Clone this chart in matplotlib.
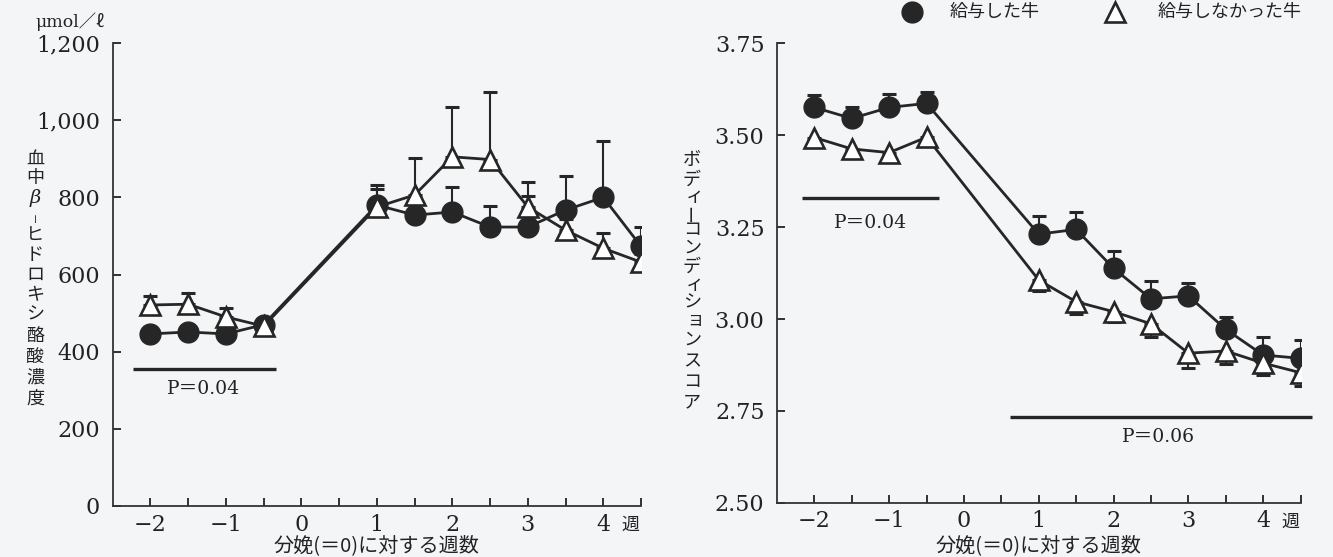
import matplotlib
matplotlib.use('Agg')
import matplotlib.pyplot as plt
import numpy as np
from matplotlib.lines import Line2D
from matplotlib.transforms import blended_transform_factory

# weeks relative to calving (=0)
weeks = [-2, -1.5, -1, -0.5, 1, 1.5, 2, 2.5, 3, 3.5, 4, 4.5]

# blood beta-hydroxybutyrate, umol/l
bhb_fed = [446, 451, 446, 470, 780, 754, 762, 723, 723, 767, 800, 673]
bhb_fed_sd = [18, 12, 12, 12, 51, 35, 65, 54, 80, 88, 145, 49]
bhb_nofed = [521, 523, 490, 466, 775, 806, 905, 898, 775, 715, 668, 632]
bhb_nofed_sd = [23, 29, 23, 10, 46, 96, 129, 174, 64, 30, 39, 20]

# body condition score
bcs_fed = [3.576, 3.546, 3.576, 3.587, 3.231, 3.244, 3.138, 3.055, 3.063, 2.972, 2.902, 2.893]
bcs_fed_sd = [0.034, 0.030, 0.036, 0.032, 0.050, 0.048, 0.048, 0.049, 0.034, 0.034, 0.050, 0.050]
bcs_nofed = [3.494, 3.463, 3.453, 3.495, 3.106, 3.047, 3.020, 2.987, 2.907, 2.913, 2.880, 2.854]
bcs_nofed_sd = [0.025, 0.025, 0.025, 0.021, 0.030, 0.034, 0.027, 0.035, 0.041, 0.036, 0.032, 0.036]

xticks = np.arange(-2, 4.51, 0.5)
xticklabels = ['−2', '', '−1', '', '0', '', '1', '', '2', '', '3', '', '4', '']
bhb_ticks = [0, 200, 400, 600, 800, 1000, 1200]
bhb_ticklabels = ['0', '200', '400', '600', '800', '1,000', '1,200']
bcs_ticks = [2.50, 2.75, 3.00, 3.25, 3.50, 3.75]
bcs_ticklabels = ['2.50', '2.75', '3.00', '3.25', '3.50', '3.75']

legend_labels = ['給与した牛', '給与しなかった牛']
xlabel = '分娩(＝0)に対する週数'
ylabel_left = ['血', '中', 'β', 'ー', 'ヒ', 'ド', 'ロ', 'キ', 'シ', '酪', '酸', '濃', '度']
ylabel_right = list('ボディーコンディションスコア')

BG = '#f3f5f7'
INK = '#262626'
SERIF = ['DejaVu Serif', 'Noto Sans CJK JP']
JP = ['Noto Sans CJK JP', 'DejaVu Sans']

W, H = 1333, 557
fig = plt.figure(figsize=(W / 100, H / 100), dpi=100, facecolor=BG)
ax1 = fig.add_axes([112.7 / W, (H - 506) / H, 528.3 / W, 463 / H])
ax2 = fig.add_axes([777 / W, (H - 502.7) / H, 523.5 / W, 459.2 / H])


def draw(ax, fed, fed_sd, nofed, nofed_sd, nofed_down, xpad):
    z = np.zeros(len(weeks))
    ax.errorbar(weeks, fed, yerr=[z, fed_sd], fmt='none', ecolor=INK,
                elinewidth=1.5, capsize=5, capthick=2.2, zorder=1)
    if nofed_down:
        err = [nofed_sd, z]
    else:
        err = [z, nofed_sd]
    ax.errorbar(weeks, nofed, yerr=err, fmt='none', ecolor=INK,
                elinewidth=1.5, capsize=5, capthick=2.2, zorder=1)
    ax.plot(weeks, fed, '-', color=INK, lw=2.0, zorder=2)
    ax.plot(weeks, nofed, '-', color=INK, lw=2.0, zorder=2)
    ax.plot(weeks, fed, 'o', ms=15, mfc=INK, mec=INK, zorder=4)
    ax.plot(weeks, nofed, '^', ms=15, mfc='white', mec=INK, mew=1.9, zorder=5)

    ax.set_facecolor(BG)
    ax.set_xlim(-2.5, 4.5)
    for s in ['top', 'right']:
        ax.spines[s].set_visible(False)
    for s in ['left', 'bottom']:
        ax.spines[s].set_linewidth(1.3)
        ax.spines[s].set_color('#333333')
    ax.set_xticks(xticks)
    ax.set_xticklabels(xticklabels, fontfamily=SERIF, fontsize=16)
    ax.tick_params(axis='x', direction='in', length=6, width=1.3, pad=xpad, colors='#222222')
    ax.tick_params(axis='y', direction='in', length=6, width=1.3, pad=9, colors='#222222')
    tr = blended_transform_factory(ax.transData, ax.transAxes)
    ax.text(4.36, -0.022, '週', transform=tr, ha='center', va='top', fontsize=13,
            fontfamily=JP, color='#222222')
    # axis title, centred under the axes, fixed height in the figure
    tr2 = blended_transform_factory(ax.transAxes, fig.transFigure)
    ax.text(0.5, 1 - 546 / H, xlabel, transform=tr2, ha='center', va='center',
            fontsize=14.5, fontfamily=JP, color='#222222')


draw(ax1, bhb_fed, bhb_fed_sd, bhb_nofed, bhb_nofed_sd, False, 6)
ax1.set_ylim(0, 1200)
ax1.set_yticks(bhb_ticks)
ax1.set_yticklabels(bhb_ticklabels, fontfamily=SERIF, fontsize=16)

draw(ax2, bcs_fed, bcs_fed_sd, bcs_nofed, bcs_nofed_sd, True, 5)
ax2.set_ylim(2.5, 3.75)
ax2.set_yticks(bcs_ticks)
ax2.set_yticklabels(bcs_ticklabels, fontfamily=SERIF, fontsize=16)

# significance bars
ax1.plot([-2.23, -0.34], [355, 355], color=INK, lw=2.4, solid_capstyle='butt')
ax1.text(-1.3, 303, 'P＝0.04', ha='center', va='center', fontsize=13.5,
         fontfamily=SERIF, color='#222222')
ax2.plot([-2.16, -0.33], [3.329, 3.329], color=INK, lw=2.4, solid_capstyle='butt')
ax2.text(-1.25, 3.262, 'P＝0.04', ha='center', va='center', fontsize=13.5,
         fontfamily=SERIF, color='#222222')
ax2.plot([0.62, 4.66], [2.733, 2.733], color=INK, lw=2.4, solid_capstyle='butt',
         clip_on=False)
ax2.text(2.6, 2.679, 'P＝0.06', ha='center', va='center', fontsize=13.5,
         fontfamily=SERIF, color='#222222')

# vertical y labels, one character at a time
left_y = [159, 178, 198, 217, 235, 255, 275, 295, 315, 336, 357, 378, 399]
for ch, py in zip(ylabel_left, left_y):
    if ch == 'β':
        fig.text(35 / W, 1 - py / H, ch, ha='center', va='center', fontsize=14,
                 fontfamily='DejaVu Serif', style='italic', color='#222222')
    elif ch == 'ー':
        fig.text(35 / W, 1 - py / H, ch, ha='center', va='center', fontsize=7,
                 rotation=90, fontfamily=JP, color='#222222')
    else:
        fig.text(35 / W, 1 - py / H, ch, ha='center', va='center', fontsize=13,
                 fontfamily=JP, color='#222222')

right_y = [160, 180, 197, 213, 230, 248, 267, 285, 302, 320, 340, 361, 382, 402]
for ch, py in zip(ylabel_right, right_y):
    rot = 90 if ch == 'ー' else 0
    dx = 3 if ch in 'ィョ' else 0
    fig.text((692 + dx) / W, 1 - py / H, ch, ha='center', va='center', fontsize=13,
             rotation=rot, fontfamily=JP, color='#222222')

# unit
fig.text(70 / W, 1 - 22 / H, 'μmol／ℓ', ha='center', va='center', fontsize=12.5,
         fontfamily=SERIF, color='#222222')

# legend along the top edge
ly = 1 - 12 / H
fig.add_artist(Line2D([912 / W], [ly], marker='o', ms=15, mfc=INK, mec=INK,
                      transform=fig.transFigure))
fig.add_artist(Line2D([1115 / W], [ly], marker='^', ms=15, mfc='white',
                      mec=INK, mew=1.9, transform=fig.transFigure))
fig.text(950 / W, ly, legend_labels[0], ha='left', va='center', fontsize=13,
         fontfamily=JP, color='#222222')
fig.text(1158 / W, ly, legend_labels[1], ha='left', va='center', fontsize=13,
         fontfamily=JP, color='#222222')

fig.savefig('out.png', dpi=100, facecolor=BG)
